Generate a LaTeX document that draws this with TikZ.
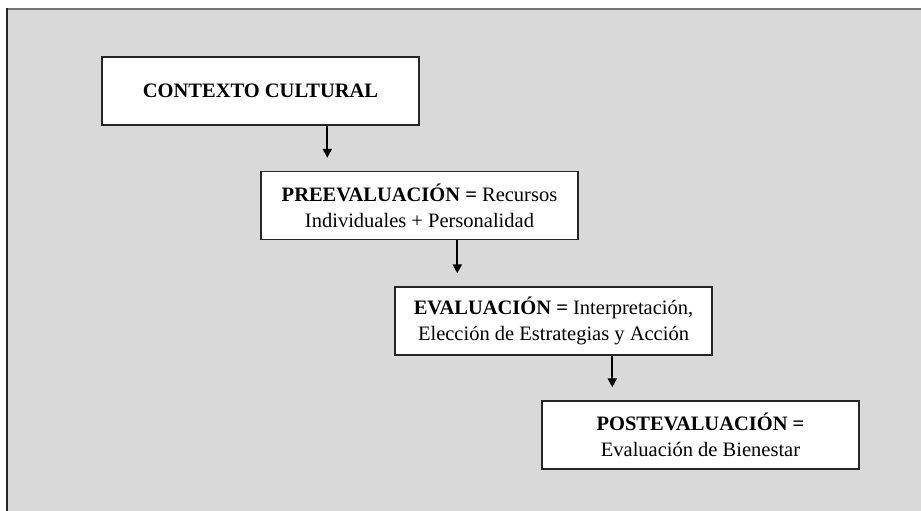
\documentclass[tikz,border=0pt]{standalone}
\usepackage{fontspec}
\setmainfont{Liberation Serif}
\usetikzlibrary{arrows.meta}
\definecolor{fondo}{HTML}{D9D9D9}
\tikzset{
    caja/.style={draw=black!85,fill=white,line width=1.4pt,minimum width=317pt,
        minimum height=68pt,align=center,inner sep=0pt,
        font=\fontsize{20.5}{26}\selectfont},
    flecha/.style={line width=2pt,-{Triangle[length=9pt,width=9pt]}}
}
\begin{document}
\begin{tikzpicture}[x=1pt,y=-1pt]
        \useasboundingbox (0,0) rectangle (921,511);
        %% Background
        \fill[fondo] (7,9) rectangle (930,520);
        \draw[black!55,line width=2.5pt] (7,9) -- (930,9);
        \draw[black!85,line width=2pt] (7,520) -- (7,8);
        %% Boxes
        \node[caja] (ctx) at (260.5,91) {\textbf{CONTEXTO CULTURAL}};
        \node[caja] (pre) at (419.5,205.5) {\textbf{PREEVALUACIÓN =} Recursos\\Individuales + Personalidad};
        \node[caja] (eva) at (553.5,321) {\textbf{EVALUACIÓN =} Interpretación,\\Elección de Estrategias y Acción};
        \node[caja] (post) at (700.5,435) {\textbf{POSTEVALUACIÓN =}\\Evaluación de Bienestar};
        %% Arrows
        \foreach \a/\b/\d in {ctx/pre/67,pre/eva/63,eva/post/71}
            \draw[flecha] ([xshift=\d pt]\b.north west |- \a.south) -- ([xshift=\d pt,yshift=13pt]\b.north west);
    \end{tikzpicture}
\end{document}
